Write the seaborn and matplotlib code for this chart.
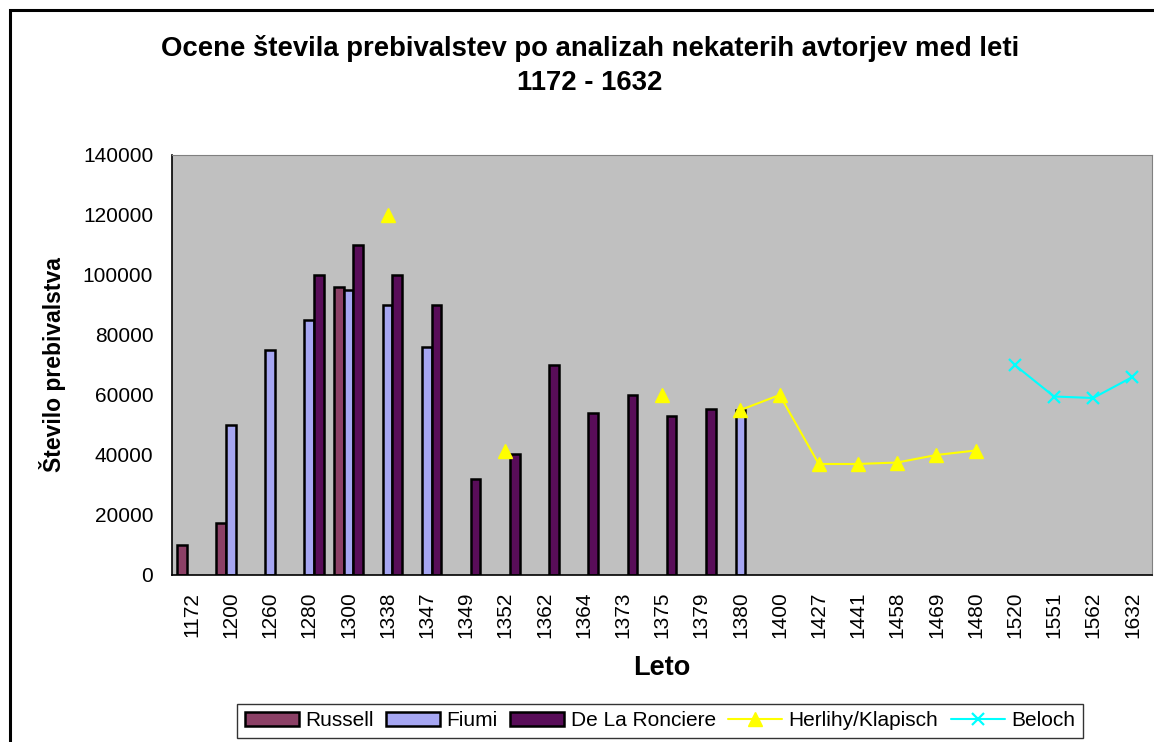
import numpy as np
import pandas as pd
import matplotlib
matplotlib.use("Agg")
import matplotlib.pyplot as plt
from matplotlib.patches import Rectangle
import seaborn as sns

nan = np.nan

# Data
leta = ["1172", "1200", "1260", "1280", "1300", "1338", "1347", "1349", "1352",
        "1362", "1364", "1373", "1375", "1379", "1380", "1400", "1427", "1441",
        "1458", "1469", "1480", "1520", "1551", "1562", "1632"]

russell = [10000, 17500, nan, nan, 96000, nan, nan, nan, nan, nan, nan, nan, nan,
           nan, nan, nan, nan, nan, nan, nan, nan, nan, nan, nan, nan]
fiumi = [nan, 50000, 75000, 85000, 95000, 90000, 76000, nan, nan, nan, nan, nan, nan,
         nan, 55000, nan, nan, nan, nan, nan, nan, nan, nan, nan, nan]
ronciere = [nan, nan, nan, 100000, 110000, 100000, 90000, 32000, 40500, 70000, 54000,
            60000, 53000, 55500, nan, nan, nan, nan, nan, nan, nan, nan, nan, nan, nan]
herlihy = [nan, nan, nan, nan, nan, 120000, nan, nan, 41500, nan, nan, nan, 60000,
           nan, 55000, 60000, 37000, 37000, 37500, 40000, 41500, nan, nan, nan, nan]
beloch = [nan, nan, nan, nan, nan, nan, nan, nan, nan, nan, nan, nan, nan, nan, nan,
          nan, nan, nan, nan, nan, nan, 70000, 59500, 59000, 66000]

bar_series = ["Russell", "Fiumi", "De La Ronciere"]
bar_colors = ["#993366", "#9999FF", "#660066"]

rows = []
for name, vals in zip(bar_series, [russell, fiumi, ronciere]):
    for leto, v in zip(leta, vals):
        if not np.isnan(v):
            rows.append({"Leto": leto, "Avtor": name, "Prebivalci": v})
df = pd.DataFrame(rows)

sns.set_style("white")
plt.rcParams["font.family"] = ["Liberation Sans", "DejaVu Sans"]
plt.rcParams.update({"text.color": "black", "axes.labelcolor": "black",
                     "xtick.color": "black", "ytick.color": "black"})

fig = plt.figure(figsize=(11.54, 7.42), dpi=100)
W, H = 1154, 742
ax = fig.add_axes([172 / W, 1 - 575 / H, 980 / W, 420 / H])
ax.set_facecolor("#C0C0C0")

sns.barplot(data=df, x="Leto", y="Prebivalci", hue="Avtor", order=leta,
            hue_order=bar_series, palette=bar_colors, width=0.73, dodge=True,
            edgecolor="black", linewidth=1.8, errorbar=None, ax=ax)

xpos = np.arange(len(leta))
ax.plot(xpos, herlihy, color="#FFFF00", marker="^", markersize=10, lw=1.5,
        label="Herlihy/Klapisch")
ax.plot(xpos, beloch, color="#00FFFF", marker="x", markersize=9, mew=1.6, lw=1.5,
        label="Beloch")

ax.set_xlim(-0.5, len(leta) - 0.5)
ax.set_ylim(0, 140000)
ax.set_yticks(np.arange(0, 140001, 20000))
ax.set_yticklabels([str(v) for v in range(0, 140001, 20000)], fontsize=15)
ax.tick_params(axis="y", direction="inout", length=13, width=1, pad=7)

ax.set_xticks(xpos)
ax.set_xticklabels(leta, rotation=90, fontsize=15)
ax.tick_params(axis="x", which="major", length=0, pad=12)
ax.set_xticks(np.arange(-0.5, len(leta), 1), minor=True)
ax.tick_params(axis="x", which="minor", direction="out", length=8, width=1)

ax.set_xlabel("Leto", fontsize=19.5, fontweight="bold", labelpad=12)
ax.set_ylabel("Število prebivalstva", fontsize=16.5, fontweight="bold", labelpad=12)

for s in ["top", "right"]:
    ax.spines[s].set_color("#808080")
for s in ["left", "bottom"]:
    ax.spines[s].set_color("black")
    ax.spines[s].set_linewidth(1.2)

fig.text(590 / W, 1 - 48 / H, "Ocene števila prebivalstev po analizah nekaterih avtorjev med leti",
         ha="center", va="center", fontsize=19.8, fontweight="bold")
fig.text(590 / W, 1 - 83 / H, "1172 - 1632", ha="center", va="center",
         fontsize=19.8, fontweight="bold")

handles, labels = ax.get_legend_handles_labels()
if ax.get_legend() is not None:
    ax.get_legend().remove()
leg = fig.legend(handles, labels, loc="upper center", bbox_to_anchor=(660 / W, 1 - 704 / H),
                 ncol=5, fontsize=15, frameon=True, fancybox=False, numpoints=1,
                 handlelength=2.6, handletextpad=0.3, columnspacing=0.6,
                 borderpad=0.35, borderaxespad=0)
leg.get_frame().set_edgecolor("black")
leg.get_frame().set_linewidth(1)

fig.patches.append(Rectangle((10 / W, -0.1), 1.2, 1 - 10 / H + 0.1, transform=fig.transFigure,
                             fill=False, edgecolor="black", linewidth=2.2))

fig.savefig("out.png", dpi=100, facecolor="white")
